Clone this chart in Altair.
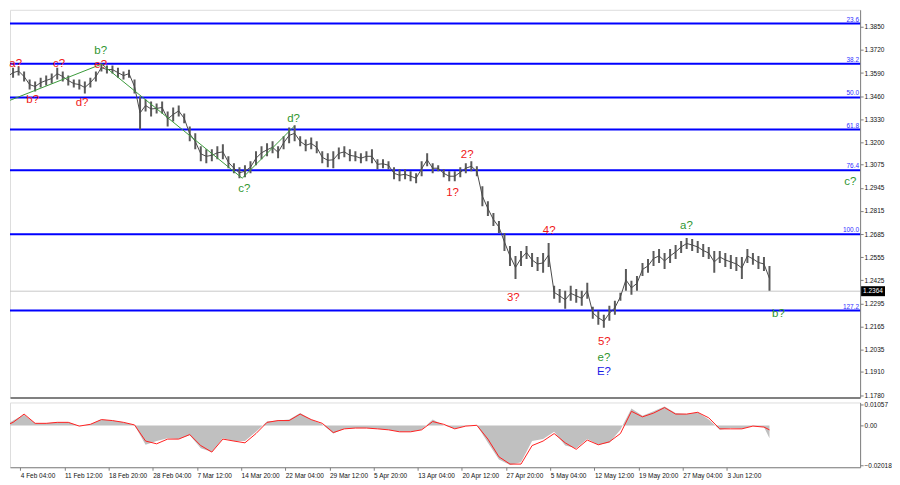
import altair as alt
import pandas as pd

# ---------------- price data (GBP/USD H4, sampled every 4 bars) ----------------
bar_high = [1.3587, 1.3598, 1.3620, 1.3626, 1.3598, 1.3553, 1.3542, 1.3564, 1.3576, 1.3587,
            1.3620, 1.3598, 1.3576, 1.3553, 1.3553, 1.3542, 1.3564, 1.3598, 1.3643, 1.3632,
            1.3632, 1.3620, 1.3598, 1.3609, 1.3553, 1.3458, 1.3441, 1.3430, 1.3419, 1.3430,
            1.3374, 1.3396, 1.3408, 1.3363, 1.3290, 1.3251, 1.3178, 1.3161, 1.3161, 1.3178,
            1.3189, 1.3122, 1.3083, 1.3060, 1.3072, 1.3094, 1.3150, 1.3178, 1.3195, 1.3206,
            1.3178, 1.3234, 1.3284, 1.3296, 1.3234, 1.3217, 1.3228, 1.3206, 1.3150, 1.3139,
            1.3150, 1.3172, 1.3178, 1.3161, 1.3150, 1.3139, 1.3150, 1.3161, 1.3105, 1.3105,
            1.3094, 1.3060, 1.3049, 1.3049, 1.3038, 1.3027, 1.3094, 1.3139, 1.3083, 1.3072,
            1.3049, 1.3038, 1.3038, 1.3060, 1.3083, 1.3094, 1.3066, 1.2954, 1.2870, 1.2803,
            1.2758, 1.2691, 1.2618, 1.2562, 1.2590, 1.2618, 1.2579, 1.2556, 1.2579, 1.2635,
            1.2394, 1.2377, 1.2366, 1.2394, 1.2377, 1.2366, 1.2411, 1.2276, 1.2254, 1.2232,
            1.2282, 1.2310, 1.2355, 1.2489, 1.2422, 1.2450, 1.2523, 1.2545, 1.2590, 1.2601,
            1.2579, 1.2601, 1.2624, 1.2646, 1.2663, 1.2657, 1.2646, 1.2629, 1.2612, 1.2590,
            1.2590, 1.2579, 1.2568, 1.2556, 1.2556, 1.2601, 1.2579, 1.2562, 1.2556, 1.2506]
bar_low = [1.3531, 1.3542, 1.3564, 1.3576, 1.3542, 1.3497, 1.3486, 1.3508, 1.3520, 1.3531,
           1.3553, 1.3542, 1.3520, 1.3508, 1.3497, 1.3475, 1.3508, 1.3542, 1.3598, 1.3587,
           1.3587, 1.3564, 1.3553, 1.3564, 1.3475, 1.3273, 1.3374, 1.3346, 1.3363, 1.3363,
           1.3290, 1.3318, 1.3346, 1.3307, 1.3206, 1.3161, 1.3094, 1.3083, 1.3094, 1.3105,
           1.3105, 1.3055, 1.3027, 1.2999, 1.3004, 1.3027, 1.3072, 1.3105, 1.3122, 1.3139,
           1.3111, 1.3161, 1.3195, 1.3206, 1.3178, 1.3150, 1.3161, 1.3139, 1.3083, 1.3060,
           1.3055, 1.3105, 1.3116, 1.3094, 1.3094, 1.3083, 1.3094, 1.3083, 1.3049, 1.3055,
           1.3049, 1.2993, 1.2982, 1.2993, 1.2982, 1.2971, 1.3010, 1.3066, 1.3027, 1.3038,
           1.3004, 1.2982, 1.2982, 1.3004, 1.3027, 1.3038, 1.3010, 1.2842, 1.2786, 1.2730,
           1.2691, 1.2590, 1.2506, 1.2433, 1.2506, 1.2545, 1.2500, 1.2478, 1.2467, 1.2500,
           1.2321, 1.2299, 1.2265, 1.2310, 1.2299, 1.2282, 1.2321, 1.2209, 1.2176, 1.2159,
           1.2198, 1.2232, 1.2310, 1.2366, 1.2344, 1.2366, 1.2450, 1.2467, 1.2506, 1.2523,
           1.2489, 1.2523, 1.2545, 1.2579, 1.2601, 1.2590, 1.2579, 1.2556, 1.2545, 1.2467,
           1.2523, 1.2500, 1.2489, 1.2478, 1.2433, 1.2523, 1.2512, 1.2489, 1.2478, 1.2366]
bar_index = [4 * k for k in range(len(bar_high))]

# Fibonacci levels
fib_names = ["23.6", "38.2", "50.0", "61.8", "76.4", "100.0", "127.2"]
fib_prices = [1.3868, 1.3642, 1.3453, 1.3272, 1.3043, 1.2684, 1.2255]

current_price = 1.2364

# Wave line (green)
wave_bars = [0, 72.2, 174.0, 211.6]
wave_prices = [1.3419, 1.3640, 1.2999, 1.3290]

# Wave labels
lab_text = ["a?", "b?", "c?", "d?", "e?", "b?", "c?", "d?", "1?", "2?", "3?", "4?", "5?", "e?", "E?", "a?", "b?", "c?"]
lab_bar = [9.9, 22.2, 41.4, 58.0, 71.5, 71.5, 175.5, 211.2, 326.4, 337.0, 370.4, 396.4, 436.3, 436.1, 436.1, 495.8, 562.5, 614.5]
lab_price = [1.3641, 1.3436, 1.3641, 1.3424, 1.3637, 1.3712, 1.2937, 1.3329, 1.2915, 1.3132, 1.2328, 1.2702, 1.2076, 1.1991, 1.1908, 1.2732, 1.2236, 1.2975]
lab_color = ["#f01818"] * 5 + ["#2f962f"] * 3 + ["#f01818"] * 5 + ["#2f962f", "#1a1ae6", "#2f962f", "#2f962f", "#2f962f"]

# Oscillator (histogram + signal), sampled every 8 bars
osc_hist = [-0.0008, 0.0025, 0.0055, 0.0011, 0.0011, 0.0016, 0.0016, -0.0003, 0.0006, 0.0030,
            0.0025, 0.0016, 0.0001, -0.0098, -0.0079, -0.0065, -0.0069, -0.0050, -0.0116, -0.0135,
            -0.0065, -0.0079, -0.0079, -0.0032, 0.0020, 0.0025, 0.0030, 0.0063, 0.0030, 0.0006,
            -0.0041, -0.0017, -0.0013, -0.0013, -0.0017, -0.0022, -0.0032, -0.0032, -0.0022, 0.0030,
            0.0001, -0.0017, -0.0003, 0.0001, -0.0088, -0.0173, -0.0201, -0.0187, -0.0079, -0.0069,
            -0.0032, -0.0102, -0.0116, -0.0069, -0.0098, -0.0088, -0.0022, 0.0086, 0.0049, 0.0072,
            0.0096, 0.0063, 0.0058, 0.0067, 0.0030, -0.0022, -0.0013, -0.0017, -0.0003, -0.0008,
            -0.0065]
osc_signal = [-0.0008, 0.0016, 0.0058, 0.0011, 0.0011, 0.0016, 0.0016, -0.0003, 0.0006, 0.0030,
              0.0025, 0.0016, 0.0003, -0.0079, -0.0093, -0.0069, -0.0069, -0.0046, -0.0102, -0.0135,
              -0.0069, -0.0079, -0.0088, -0.0041, 0.0016, 0.0025, 0.0025, 0.0058, 0.0030, 0.0011,
              -0.0036, -0.0017, -0.0013, -0.0013, -0.0017, -0.0022, -0.0032, -0.0032, -0.0022, 0.0020,
              0.0006, -0.0017, -0.0003, 0.0001, -0.0069, -0.0159, -0.0196, -0.0196, -0.0102, -0.0079,
              -0.0041, -0.0088, -0.0121, -0.0074, -0.0098, -0.0083, -0.0041, 0.0072, 0.0044, 0.0063,
              0.0091, 0.0058, 0.0058, 0.0067, 0.0039, -0.0017, -0.0017, -0.0017, -0.0003, -0.0008,
              -0.0022]
osc_bar = [8 * k for k in range(len(osc_hist) - 1)] + [556]

# Axis labels
price_ticks = [1.3850, 1.3720, 1.3590, 1.3460, 1.3330, 1.3200, 1.3075, 1.2945, 1.2815, 1.2685,
               1.2555, 1.2425, 1.2295, 1.2165, 1.2035, 1.1910, 1.1780]
osc_ticks = [0.01057, 0.0, -0.02018]
date_labels = ["4 Feb 04:00", "11 Feb 12:00", "18 Feb 20:00", "28 Feb 04:00", "7 Mar 12:00",
               "14 Mar 20:00", "22 Mar 04:00", "29 Mar 12:00", "5 Apr 20:00", "13 Apr 04:00",
               "20 Apr 12:00", "27 Apr 20:00", "5 May 04:00", "12 May 12:00", "19 May 20:00",
               "27 May 04:00", "3 Jun 12:00"]
date_bars = [13.2 + 32 * j for j in range(len(date_labels))]

# ---------------- chart ----------------
FONT = "Liberation Sans"
W = 853
H_MAIN = 389
H_OSC = 65

xs = alt.Scale(domain=[5.776, 621.66], nice=False, zero=False)
ys = alt.Scale(domain=[1.17668, 1.39452], nice=False, zero=False)
os_ = alt.Scale(domain=[-0.0212, 0.0117], nice=False, zero=False)

x_axis_main = alt.Axis(labels=False, ticks=False, domain=True, domainColor="#808080",
                       domainWidth=2, grid=False, title=None)
y_axis_main = alt.Axis(orient="right", values=price_ticks, format=".4f", labelFont=FONT,
                       labelFontSize=6.5, labelColor="#111111", tickSize=3, tickColor="#808080",
                       domainColor="#808080", grid=False, title=None, labelPadding=1,
                       labelOverlap=False, labelFlush=False, labelBound=False)

X = alt.X("bar:Q", scale=xs, axis=x_axis_main)

price_df = pd.DataFrame({"bar": bar_index, "high": bar_high, "low": bar_low})

bars = alt.Chart(price_df).mark_rule(color="#5a5a5a", strokeWidth=2, clip=True).encode(
    x=X,
    y=alt.Y("low:Q", scale=ys, axis=y_axis_main),
    y2="high:Q",
)
mid = alt.Chart(price_df).transform_calculate(price="(datum.high + datum.low) / 2").mark_line(
    color="#4a4a4a", strokeWidth=1, clip=True).encode(
    x=X, y=alt.Y("price:Q", scale=ys, axis=y_axis_main))

fib_df = pd.DataFrame({"name": fib_names, "price": fib_prices})
fib_lines = alt.Chart(fib_df).mark_rule(color="#0000ff", strokeWidth=2).encode(
    y=alt.Y("price:Q", scale=ys, axis=y_axis_main))
fib_text = alt.Chart(fib_df).mark_text(align="right", baseline="alphabetic", dy=-2,
                                       font=FONT, fontSize=6.5, color="#3030ff").encode(
    x=alt.value(W - 1), y=alt.Y("price:Q", scale=ys, axis=y_axis_main), text="name:N")

cur_df = pd.DataFrame({"price": [current_price], "label": [f"{current_price:.4f}"]})
cur_line = alt.Chart(cur_df).mark_rule(color="#c8c8c8", strokeWidth=1).encode(
    y=alt.Y("price:Q", scale=ys, axis=y_axis_main))
cur_box = alt.Chart(cur_df).transform_calculate(
    lo="datum.price - 0.0028", hi="datum.price + 0.0028").mark_rect(color="#000000").encode(
    x=alt.value(W + 1), x2=alt.value(W + 25),
    y=alt.Y("lo:Q", scale=ys, axis=y_axis_main), y2="hi:Q")
cur_text = alt.Chart(cur_df).mark_text(align="left", baseline="middle", font=FONT, fontSize=6.5,
                                       color="#ffffff").encode(
    x=alt.value(W + 3), y=alt.Y("price:Q", scale=ys, axis=y_axis_main), text="label:N")

wave_df = pd.DataFrame({"bar": wave_bars, "price": wave_prices})
wave = alt.Chart(wave_df).mark_line(color="#3a9a3a", strokeWidth=1, clip=True).encode(
    x=X, y=alt.Y("price:Q", scale=ys, axis=y_axis_main))

lab_df = pd.DataFrame({"bar": lab_bar, "price": lab_price, "text": lab_text, "color": lab_color})
labels = alt.Chart(lab_df).mark_text(font=FONT, fontSize=11.5, baseline="middle", align="center").encode(
    x=X, y=alt.Y("price:Q", scale=ys, axis=y_axis_main), text="text:N",
    color=alt.Color("color:N", scale=None))

main = alt.layer(fib_lines, cur_line, bars, mid, wave, fib_text, labels, cur_box, cur_text).properties(
    width=W, height=H_MAIN)

# Oscillator panel
label_js = "[" + ",".join("'" + d + "'" for d in date_labels) + "]"
x_axis_osc = alt.Axis(values=date_bars, labelExpr=label_js + "[round((datum.value - 13.2) / 32)]",
                      labelAlign="left", labelFont=FONT, labelFontSize=6.5, labelColor="#111111",
                      tickSize=3, tickColor="#808080", domainColor="#808080", grid=False,
                      title=None, labelPadding=2, labelOverlap=False, labelFlush=False,
                      labelBound=False)
o_axis = alt.Axis(orient="right", values=osc_ticks,
                  labelExpr="datum.value == 0 ? '0.00' : format(datum.value, '.5f')",
                  labelFont=FONT, labelFontSize=6.5, labelColor="#111111", tickSize=3,
                  tickColor="#808080", domainColor="#808080", grid=False, title=None,
                  labelPadding=1, labelOverlap=False, labelFlush=False, labelBound=False)
XO = alt.X("bar:Q", scale=xs, axis=x_axis_osc)

osc_df = pd.DataFrame({"bar": osc_bar, "hist": osc_hist, "signal": osc_signal})
hist = alt.Chart(osc_df).mark_area(color="#c0c0c0", opacity=1, clip=True).encode(
    x=XO, y=alt.Y("hist:Q", scale=os_, axis=o_axis), y2=alt.datum(0))
sig = alt.Chart(osc_df).mark_line(color="#ff2020", strokeWidth=1, clip=True).encode(
    x=XO, y=alt.Y("signal:Q", scale=os_, axis=o_axis))

osc = alt.layer(hist, sig).properties(width=W, height=H_OSC)

chart = alt.vconcat(main, osc, spacing=1).properties(padding=0).configure_view(
    stroke=None).configure(background="#ffffff")

chart.save("out.html", embed_options={"renderer": "svg", "actions": False})
